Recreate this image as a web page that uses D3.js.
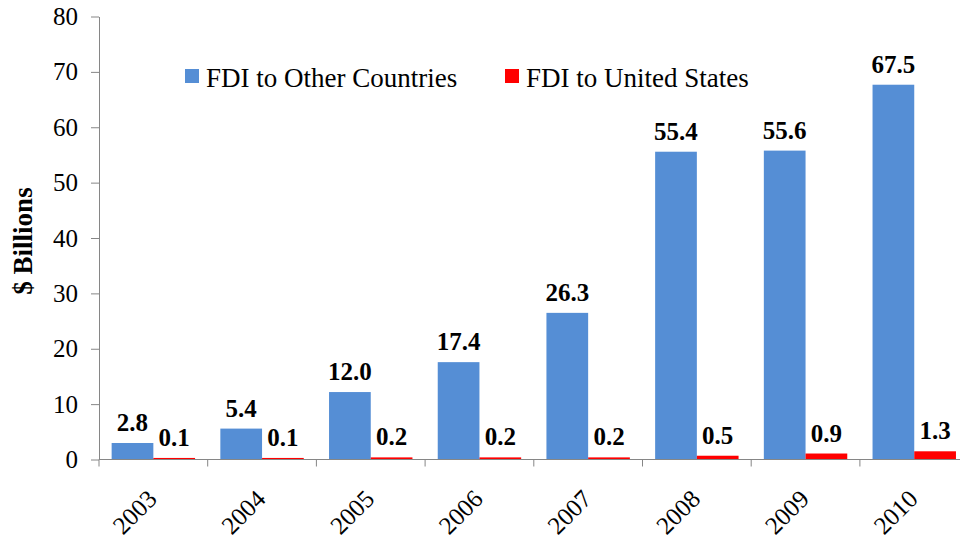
<!DOCTYPE html>
<html>
<head>
<meta charset="utf-8">
<script src="https://cdn.jsdelivr.net/npm/d3@7"></script>
<style>
  body { margin: 0; background: #fff; }
  svg text { font-family: "Liberation Serif", "Times New Roman", Times, serif; fill: #000; }
</style>
</head>
<body>
<div id="chart"></div>
<script>
const years = ['2003', '2004', '2005', '2006', '2007', '2008', '2009', '2010'];
const otherCountries = [2.8, 5.4, 12.0, 17.4, 26.3, 55.4, 55.6, 67.5];
const unitedStates = [0.1, 0.1, 0.2, 0.2, 0.2, 0.5, 0.9, 1.3];
const yTicks = [0, 10, 20, 30, 40, 50, 60, 70, 80];
const seriesNames = ['FDI to Other Countries', 'FDI to United States'];
const seriesColors = ['#558ed5', '#ff0000'];

const width = 960, height = 538;
const plotLeft = 99, plotBottom = 459.5, plotTop = 16.5, step = 108.7;
const axisColor = '#868686';
const serif = '"Liberation Serif", "Times New Roman", Times, serif';

const svg = d3.select('#chart').append('svg')
  .attr('width', width)
  .attr('height', height);

const x = d3.scaleBand()
  .domain(years)
  .range([plotLeft, plotLeft + step * years.length]);

const xSub = d3.scaleBand()
  .domain([0, 1])
  .range([0, x.bandwidth()])
  .paddingOuter(0.303);

const y = d3.scaleLinear()
  .domain([0, 80])
  .range([plotBottom, plotTop]);

// y axis
const yAxis = svg.append('g')
  .attr('transform', `translate(${plotLeft},0)`)
  .call(d3.axisLeft(y).tickValues(yTicks).tickSize(8).tickPadding(13).tickSizeOuter(0));
yAxis.attr('font-family', serif);
yAxis.select('.domain').attr('stroke', axisColor);
yAxis.selectAll('.tick line').attr('stroke', axisColor);
yAxis.selectAll('.tick text')
  .attr('font-size', 25)
  .attr('font-family', serif)
  .attr('fill', '#000');

// bars
const groups = years.map((yr, i) => ({ year: yr, values: [otherCountries[i], unitedStates[i]] }));

const g = svg.selectAll('.group').data(groups).enter()
  .append('g')
  .attr('class', 'group')
  .attr('transform', (d) => `translate(${x(d.year)},0)`);

g.selectAll('rect').data((d) => d.values).enter()
  .append('rect')
  .attr('x', (d, i) => xSub(i))
  .attr('width', xSub.bandwidth())
  .attr('y', (d) => y(d) - 1)
  .attr('height', (d) => plotBottom - y(d) + 1)
  .attr('fill', (d, i) => seriesColors[i]);

g.selectAll('.label').data((d) => d.values).enter()
  .append('text')
  .attr('class', 'label')
  .attr('x', (d, i) => xSub(i) + xSub.bandwidth() / 2)
  .attr('y', (d) => y(d) - 13)
  .attr('text-anchor', 'middle')
  .attr('font-family', serif)
  .attr('font-size', 25)
  .attr('font-weight', 'bold')
  .text((d) => d.toFixed(1));

// x axis
const xAxis = svg.append('g')
  .attr('transform', `translate(0,${plotBottom})`);
xAxis.append('line')
  .attr('x1', plotLeft).attr('x2', width + 20)
  .attr('stroke', axisColor);
xAxis.selectAll('.xtick').data(years.concat(['end'])).enter()
  .append('line')
  .attr('x1', (d, i) => plotLeft + i * x.step())
  .attr('x2', (d, i) => plotLeft + i * x.step())
  .attr('y1', 0).attr('y2', 7)
  .attr('stroke', axisColor);
xAxis.selectAll('.xlabel').data(years).enter()
  .append('text')
  .attr('text-anchor', 'end')
  .attr('font-family', serif)
  .attr('font-size', 25)
  .attr('transform', (d) => `translate(${x(d) + x.bandwidth() / 2 + 5},${41}) rotate(-45)`)
  .text((d) => d);

// y axis title
svg.append('text')
  .attr('transform', 'translate(32,241) rotate(-90)')
  .attr('text-anchor', 'middle')
  .attr('font-family', serif)
  .attr('font-size', 27)
  .attr('font-weight', 'bold')
  .text('$ Billions');

// legend
const legendX = [185, 505];
const legend = svg.selectAll('.legend').data(seriesNames).enter()
  .append('g')
  .attr('class', 'legend')
  .attr('transform', (d, i) => `translate(${legendX[i]},69)`);
legend.append('rect')
  .attr('width', 14).attr('height', 14)
  .attr('fill', (d, i) => seriesColors[i]);
legend.append('text')
  .attr('x', 21).attr('y', 17.5)
  .attr('font-family', serif)
  .attr('font-size', 27)
  .text((d) => d);
</script>
</body>
</html>
